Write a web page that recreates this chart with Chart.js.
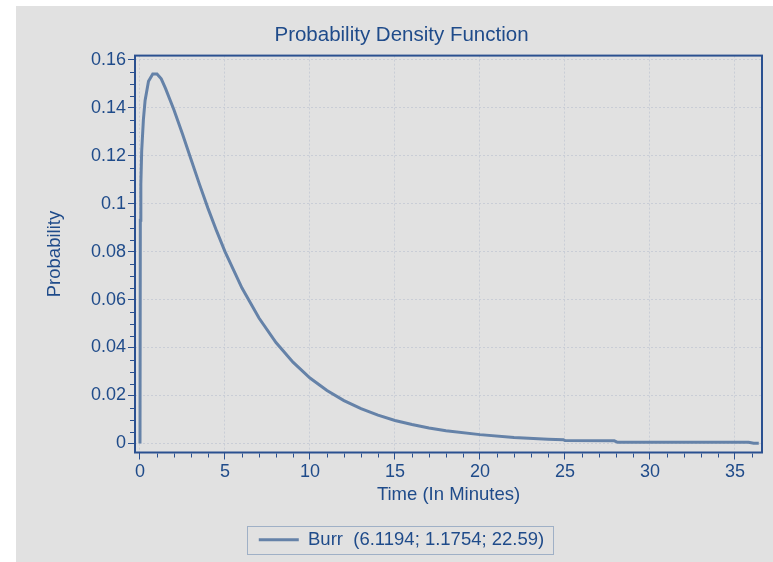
<!DOCTYPE html>
<html>
<head>
<meta charset="utf-8">
<script src="https://cdn.jsdelivr.net/npm/chart.js@4/dist/chart.umd.min.js"></script>
<style>
  html, body { margin: 0; padding: 0; background: #ffffff; }
  canvas { display: block; }
</style>
</head>
<body>
<canvas id="c" width="773" height="562"></canvas>
<script>
// ---- data ----
const TITLE = "Probability Density Function";
const X_TITLE = "Time (In Minutes)";
const Y_TITLE = "Probability";
const SERIES_LABEL = "Burr  (6.1194; 1.1754; 22.59)";

const X_VALUES = [0, 0.02, 0.05, 0.1, 0.2, 0.3, 0.5, 0.75, 1, 1.25, 1.5, 2, 2.5, 3, 3.5, 4, 4.5, 5, 6, 7, 8, 9, 10, 11, 12, 13, 14, 15, 16, 17, 18, 20, 22, 24, 24.9, 25, 27.9, 28.1, 35.8, 36.1, 36.4];
const Y_VALUES = [0, 0.093, 0.108, 0.122, 0.135, 0.143, 0.151, 0.154, 0.154, 0.152, 0.148, 0.139, 0.129, 0.1185, 0.108, 0.098, 0.0887, 0.080, 0.0648, 0.0523, 0.0421, 0.0339, 0.0273, 0.0221, 0.0179, 0.0145, 0.0118, 0.0096, 0.0079, 0.0065, 0.0053, 0.0037, 0.0025, 0.0018, 0.0016, 0.0012, 0.0011, 0.0005, 0.0005, 0.0001, 0.0001];

const X_TICKS = [0, 5, 10, 15, 20, 25, 30, 35];
const Y_TICKS = [0, 0.02, 0.04, 0.06, 0.08, 0.1, 0.12, 0.14, 0.16];
const X_MINOR_STEP = 1;
const Y_MINOR_STEP = 0.005;
const X_RANGE = [-0.294, 36.59];
const Y_RANGE = [-0.00375, 0.16167];

// ---- styles ----
const TEXT = "#1f4b8a";
const LINE = "#6582a8";
const FRAME = "#2a5090";
const PANEL = "#e1e1e1";
const GRID = "#c9cdd6";
const FONT = "'Liberation Sans', Arial, sans-serif";

const points = X_VALUES.map((x, i) => ({ x: x, y: Y_VALUES[i] }));

const backgroundPlugin = {
  id: "panel",
  beforeDraw(chart) {
    const ctx = chart.ctx;
    ctx.save();
    ctx.fillStyle = "#ffffff";
    ctx.fillRect(0, 0, chart.width, chart.height);
    ctx.fillStyle = PANEL;
    ctx.fillRect(16, 6, chart.width - 16, chart.height - 6);
    ctx.restore();
  }
};

const framePlugin = {
  id: "frame",
  afterDraw(chart) {
    const ctx = chart.ctx;
    const a = chart.chartArea;
    const xs = chart.scales.x, ys = chart.scales.y;
    ctx.save();
    // minor ticks
    ctx.strokeStyle = FRAME;
    ctx.lineWidth = 1;
    ctx.beginPath();
    for (let v = X_MINOR_STEP; v <= X_RANGE[1]; v += X_MINOR_STEP) {
      const r = Math.round(v * 1000) / 1000;
      if (X_TICKS.includes(r)) continue;
      const px = Math.round(xs.getPixelForValue(r)) + 0.5;
      ctx.moveTo(px, a.bottom + 1);
      ctx.lineTo(px, a.bottom + 5);
    }
    for (let v = Y_MINOR_STEP; v <= Y_RANGE[1]; v += Y_MINOR_STEP) {
      const r = Math.round(v * 10000) / 10000;
      if (Y_TICKS.some(t => Math.abs(t - r) < 1e-9)) continue;
      const py = Math.round(ys.getPixelForValue(r)) + 0.5;
      ctx.moveTo(a.left - 5, py);
      ctx.lineTo(a.left - 1, py);
    }
    ctx.stroke();
    // frame around plot area
    ctx.lineWidth = 2;
    ctx.strokeRect(a.left, a.top, a.right - a.left, a.bottom - a.top);
    // legend frame
    const lg = chart.legend;
    if (lg && lg.legendHitBoxes && lg.legendHitBoxes.length) {
      const hb = lg.legendHitBoxes[0];
      const cy = hb.top + hb.height / 2;
      ctx.strokeStyle = "#9fb0c6";
      ctx.lineWidth = 1;
      ctx.strokeRect(Math.round(hb.left - 12) + 0.5, Math.round(cy - 14) + 0.5, Math.round(hb.width + 21), 28);
    }
    ctx.restore();
  }
};

new Chart(document.getElementById("c"), {
  type: "line",
  data: {
    datasets: [{
      label: SERIES_LABEL,
      data: points,
      borderColor: LINE,
      backgroundColor: LINE,
      borderWidth: 3,
      pointRadius: 0,
      tension: 0,
      fill: false
    }]
  },
  options: {
    responsive: false,
    animation: false,
    layout: { padding: { left: 41, right: 11, top: 0, bottom: 3 } },
    plugins: {
      title: {
        display: true,
        text: TITLE,
        color: TEXT,
        font: { family: FONT, size: 20.5, weight: "normal", lineHeight: 1.2 },
        padding: { top: 23, bottom: 8 }
      },
      legend: {
        display: true,
        position: "bottom",
        labels: {
          color: TEXT,
          font: { family: FONT, size: 18.5 },
          boxWidth: 40,
          boxHeight: 3,
          padding: 10,
          generateLabels(chart) {
            const items = Chart.defaults.plugins.legend.labels.generateLabels(chart);
            items.forEach(it => { it.lineWidth = 0; it.fillStyle = LINE; it.strokeStyle = LINE; });
            return items;
          }
        }
      },
      tooltip: { enabled: false }
    },
    scales: {
      x: {
        type: "linear",
        min: X_RANGE[0],
        max: X_RANGE[1],
        afterBuildTicks(scale) { scale.ticks = X_TICKS.map(v => ({ value: v })); },
        afterFit(scale) { scale.height = 68; },
        ticks: {
          color: TEXT,
          font: { family: FONT, size: 18 },
          padding: 2,
          maxRotation: 0,
          autoSkip: false,
          callback: v => String(v)
        },
        grid: {
          color: GRID,
          lineWidth: 1,
          drawTicks: true,
          tickLength: 7,
          tickColor: FRAME,
          tickWidth: 1
        },
        border: { display: false, dash: [2, 2] },
        title: {
          display: true,
          text: X_TITLE,
          color: TEXT,
          font: { family: FONT, size: 18.5 },
          padding: { top: 0, bottom: 14 }
        }
      },
      y: {
        type: "linear",
        min: Y_RANGE[0],
        max: Y_RANGE[1],
        afterBuildTicks(scale) { scale.ticks = Y_TICKS.map(v => ({ value: v })); },
        afterFit(scale) { scale.width = 94; },
        ticks: {
          color: TEXT,
          font: { family: FONT, size: 18 },
          padding: 2,
          autoSkip: false,
          callback: v => String(+Number(v).toFixed(3))
        },
        grid: {
          color: GRID,
          lineWidth: 1,
          drawTicks: true,
          tickLength: 7,
          tickColor: FRAME,
          tickWidth: 1
        },
        border: { display: false, dash: [2, 2] },
        title: {
          display: true,
          text: Y_TITLE,
          color: TEXT,
          font: { family: FONT, size: 18.5 },
          padding: { top: 3, bottom: 0 }
        }
      }
    }
  },
  plugins: [backgroundPlugin, framePlugin]
});
</script>
</body>
</html>
